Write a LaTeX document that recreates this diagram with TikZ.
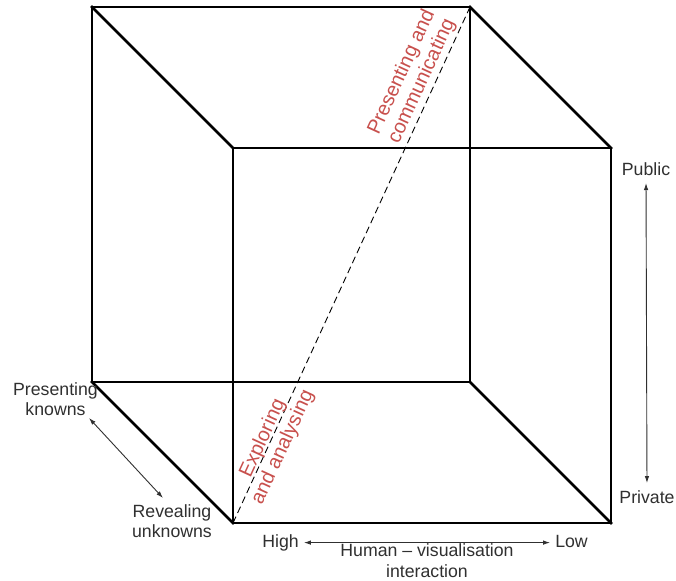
\documentclass[tikz,border=0pt]{standalone}
\usepackage{fontspec}
\setmainfont{Liberation Sans}
\usetikzlibrary{arrows.meta}
\definecolor{labred}{HTML}{C8504D}
\definecolor{labgray}{HTML}{303030}
\begin{document}
\begin{tikzpicture}[x=1pt,y=-1pt,
  edge/.style={line width=2.6pt, line join=miter, line cap=rect},
  diag/.style={line width=0.9pt, dash pattern=on 7pt off 4pt},
  lbl/.style={font=\fontsize{17.7}{20.5}\selectfont, text=labgray, inner sep=0pt, align=center},
  onelbl/.style={lbl, text height=12.8pt, text depth=3.7pt},
  redlbl/.style={font=\fontsize{20}{22}\selectfont, text=labred, inner sep=0pt, align=center, rotate=65.33},
  dim/.style={line width=0.9pt, draw=labgray, {Latex[length=7pt,width=4.5pt]}-{Latex[length=7pt,width=4.5pt]}},
]
\useasboundingbox (0,0) rectangle (676,580);
\fill[white] (0,0) rectangle (676,580);

% cube corners
\coordinate (btl) at (92,7);
\coordinate (btr) at (470,7);
\coordinate (bbr) at (470,382);
\coordinate (bbl) at (92,382);
\coordinate (ftl) at (233,148);
\coordinate (ftr) at (611,148);
\coordinate (fbr) at (611,523);
\coordinate (fbl) at (233,523);

% dashed diagonal
\draw[diag] (fbl) -- (btr);

% cube edges
\draw[edge] (btl) -- (btr) -- (bbr) -- (bbl) -- cycle;
\draw[edge] (ftl) -- (ftr) -- (fbr) -- (fbl) -- cycle;
\draw[edge] (btl) -- (ftl);
\draw[edge] (btr) -- (ftr);
\draw[edge] (bbr) -- (fbr);
\draw[edge] (bbl) -- (fbl);

% red labels along the diagonal
\node[redlbl] (pc) at (412,77) {Presenting and\\communicating};
\node[redlbl] (ea) at (273,443) {Exploring\\and analysing};

% right axis
\node[onelbl] (pub) at (646,170.6) {Public};
\node[onelbl] (priv) at (647,499) {Private};
\draw[dim, shorten <=4pt, shorten >=7.5pt] (pub.south) -- (priv.north);

% bottom axis
\node[onelbl] (high) at (280.5,542.6) {High};
\node[onelbl] (low) at (571.5,542.6) {Low};
\draw[dim, shorten <=5pt, shorten >=5pt] (high.east) -- (low.west);
\node[lbl, anchor=north] (hvi) at (427,543.5) {Human \textendash{} visualisation\\interaction};

% left axis
\node[lbl, anchor=north] (pk) at (55.5,382) {Presenting\\knowns};
\node[lbl, anchor=north] (ru) at (172,504) {Revealing\\unknowns};
\coordinate (pkarr) at (89,418);
\coordinate (ruarr) at (163,498);
\draw[dim] (pkarr) -- (ruarr);
\end{tikzpicture}
\end{document}
